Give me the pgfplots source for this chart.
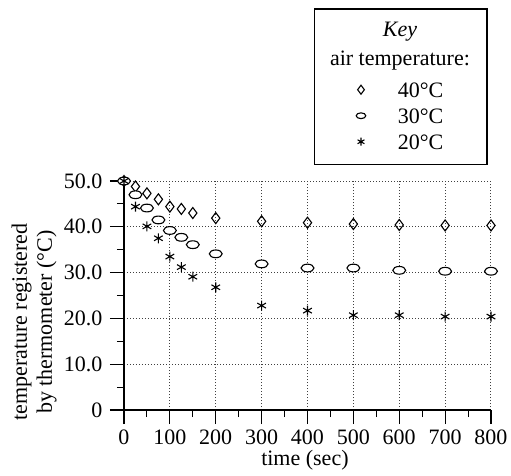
\documentclass[border=0pt]{standalone}
\usepackage{fontspec}
\setmainfont{Liberation Serif}
\usepackage{pgfplots}
\pgfplotsset{compat=1.18}
\pgfdeclareplotmark{oval}{%
  \pgfpathellipse{\pgfpointorigin}{\pgfqpoint{1.5\pgfplotmarksize}{0pt}}{\pgfqpoint{0pt}{0.9\pgfplotmarksize}}%
  \pgfusepathqfillstroke}
\begin{document}
\fontsize{22}{25}\selectfont
\begin{tikzpicture}
\useasboundingbox (-124pt,-65pt) rectangle (387pt,410pt);
\begin{axis}[
  scale only axis, width=367pt, height=229pt,
  xmin=0, xmax=800, ymin=0, ymax=50,
  axis lines=left,
  x axis line style={-, line width=1.1pt},
  y axis line style={-, line width=1.1pt},
  xtick={0,100,...,800}, xticklabels={0,100,200,300,400,500,600,700,800},
  ytick={0,10,...,50}, yticklabels={0,10.0,20.0,30.0,40.0,50.0},
  minor x tick num=1, minor y tick num=1,
  xtick pos=bottom, ytick pos=left,
  tick align=outside,
  major tick length=14pt, minor tick length=7pt,
  tick style={line width=1.1pt, black},
  grid=major,
  major grid style={line width=1pt, black!75, dash pattern=on 1pt off 2pt},
  every tick label/.append style={font=\fontsize{22}{25}\selectfont},
  xticklabel style={yshift=2pt},
  label style={font=\fontsize{22}{25}\selectfont},
  xlabel={time (sec)},
  xlabel style={at={(rel axis cs:0.493,-0.218)}, anchor=center},
  ylabel={temperature registered\\by thermometer (°C)},
  ylabel style={align=center, at={(rel axis cs:-0.245,0.384)}, anchor=center},
  clip=false,
  legend style={draw=none, fill=none, font=\fontsize{22}{25}\selectfont,
    at={(rel axis cs:0.624,1.454)}, anchor=north west,
    nodes={text height=16pt, text depth=6pt, inner sep=2pt},
    /tikz/every odd column/.append style={column sep=30pt},
    row sep=0pt},
  legend cell align=left,
]
\addplot[only marks, mark=diamond, mark size=5.5pt, mark options={line width=1.1pt, fill=white, draw=black},
  legend image code/.code={\draw[mark=diamond, mark size=4.5pt, mark options={line width=1.1pt, fill=white}] plot coordinates {(0pt,2.5pt)};}]
  coordinates {(0,50) (25,48.8) (50,47.3) (75,46.0) (100,44.4) (125,43.9) (150,43.0) (200,41.9)
  (300,41.2) (400,40.9) (500,40.6) (600,40.4) (700,40.3) (800,40.3)};
\addlegendentry{40°C}
\addplot[only marks, mark=oval, mark size=4.3pt, mark options={line width=1.1pt, fill=white, draw=black},
  legend image code/.code={\draw[mark=oval, mark size=3.2pt, mark options={line width=1.1pt, fill=white}] plot coordinates {(0pt,2.5pt)};}]
  coordinates {(0,50) (25,47.0) (50,44.1) (75,41.5) (100,39.2) (125,37.7) (150,36.1) (200,34.1)
  (300,31.9) (400,31.0) (500,31.0) (600,30.5) (700,30.3) (800,30.3)};
\addlegendentry{30°C}
\addplot[only marks, mark=asterisk, mark size=5pt, mark options={line width=1.1pt, draw=black},
  legend image code/.code={\draw[mark=asterisk, mark size=4pt, mark options={line width=1.1pt}] plot coordinates {(0pt,2.5pt)};}]
  coordinates {(0,50) (25,44.4) (50,40.1) (75,37.5) (100,33.5) (125,31.2) (150,29.1) (200,26.8)
  (300,22.8) (400,21.7) (500,20.7) (600,20.7) (700,20.4) (800,20.4)};
\addlegendentry{20°C}
\draw[line width=1.1pt] (rel axis cs:0.518,1.074) rectangle (rel axis cs:0.989,1.751);
\node[font=\fontsize{22}{25}\selectfont\itshape] at (rel axis cs:0.752,1.651) {Key};
\node[font=\fontsize{22}{25}\selectfont] at (rel axis cs:0.752,1.528) {air temperature:};
\end{axis}
\end{tikzpicture}
\end{document}
